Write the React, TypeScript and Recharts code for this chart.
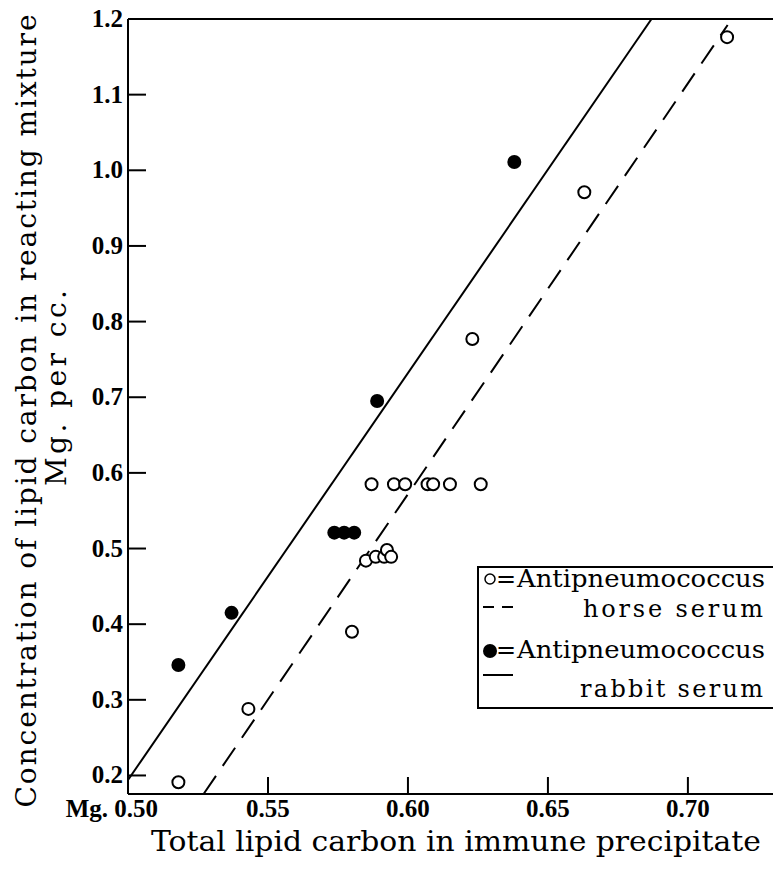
import React from 'react';
import { ScatterChart, Scatter, XAxis, YAxis, ReferenceLine } from 'recharts';

// Antipneumococcus horse serum (open circles)
const horseX = [0.518, 0.543, 0.58, 0.585, 0.5885, 0.5915, 0.5925, 0.594, 0.587, 0.595, 0.599, 0.607, 0.609, 0.615, 0.626, 0.623, 0.663, 0.714];
const horseY = [0.191, 0.288, 0.39, 0.484, 0.489, 0.489, 0.498, 0.489, 0.585, 0.585, 0.585, 0.585, 0.585, 0.585, 0.585, 0.777, 0.971, 1.176];

// Antipneumococcus rabbit serum (filled circles)
const rabbitX = [0.518, 0.537, 0.5737, 0.5772, 0.5808, 0.589, 0.638];
const rabbitY = [0.346, 0.415, 0.521, 0.521, 0.521, 0.695, 1.011];

// fitted lines: rabbit (solid), horse (dashed)
const rabbitLine = [{ x: 0.5, y: 0.194 }, { x: 0.687, y: 1.2 }];
const horseLine = [{ x: 0.527, y: 0.1755 }, { x: 0.7142, y: 1.192 }];

const xTicks = [0.5, 0.55, 0.6, 0.65, 0.7];
const yTicks = [0.2, 0.3, 0.4, 0.5, 0.6, 0.7, 0.8, 0.9, 1.0, 1.1, 1.2];

const horse = horseX.map((x, i) => ({ x, y: horseY[i] }));
const rabbit = rabbitX.map((x, i) => ({ x, y: rabbitY[i] }));

const tickFont = { fontFamily: 'Liberation Serif', fontSize: 25, fontWeight: 'bold', fill: '#000' };
const titleFont = { fontFamily: 'DejaVu Serif', fontSize: 28, fill: '#000' };
const legendFont = { fontFamily: 'DejaVu Serif', fontSize: 24, fill: '#000' };

const XTick = (props: any) => {
  const { x, y, payload } = props;
  const first = payload.value === 0.5;
  return (
    <g>
      {!first && <line x1={x} x2={x} y1={y} y2={y - 17} stroke="#000" strokeWidth={2} />}
      <text x={first ? x + 30 : x} y={y + 23} textAnchor={first ? 'end' : 'middle'} {...tickFont}>
        {first ? 'Mg. 0.50' : payload.value.toFixed(2)}
      </text>
    </g>
  );
};

const YTick = (props: any) => {
  const { x, y, payload } = props;
  return (
    <g>
      {payload.value !== 1.2 && <line x1={x} x2={x + 18} y1={y} y2={y} stroke="#000" strokeWidth={2} />}
      <text x={x - 5} y={y + 8} textAnchor="end" {...tickFont}>
        {payload.value.toFixed(1)}
      </text>
    </g>
  );
};

const OpenDot = (props: any) => (
  <circle cx={props.cx} cy={props.cy} r={6} fill="#fff" stroke="#000" strokeWidth={2} />
);
const FilledDot = (props: any) => <circle cx={props.cx} cy={props.cy} r={7} fill="#000" />;

export default function App() {
  return (
    <div style={{ position: 'absolute', left: 0, top: 0, width: 773, height: 869, overflow: 'hidden', background: '#fff' }}>
      <ScatterChart width={773} height={869} margin={{ top: 19, right: 0, left: 0, bottom: 0 }}>
        <XAxis
          type="number"
          dataKey="x"
          domain={[0.5, 0.7304]}
          ticks={xTicks}
          interval={0}
          allowDataOverflow
          height={75}
          tickSize={0}
          tickMargin={0}
          tickLine={false}
          tick={<XTick />}
          axisLine={{ stroke: '#000', strokeWidth: 2 }}
        />
        <YAxis
          type="number"
          dataKey="y"
          domain={[0.1755, 1.2]}
          ticks={yTicks}
          interval={0}
          allowDataOverflow
          width={128}
          tickSize={0}
          tickMargin={0}
          tickLine={false}
          tick={<YTick />}
          axisLine={{ stroke: '#000', strokeWidth: 2 }}
        />
        <ReferenceLine y={1.2} stroke="#000" strokeWidth={2} ifOverflow="visible" />
        <ReferenceLine segment={rabbitLine} stroke="#000" strokeWidth={2} ifOverflow="visible" />
        <ReferenceLine segment={horseLine} stroke="#000" strokeWidth={2} strokeDasharray="22 12" ifOverflow="visible" />
        <Scatter data={horse} shape={<OpenDot />} isAnimationActive={false} />
        <Scatter data={rabbit} shape={<FilledDot />} isAnimationActive={false} />
      </ScatterChart>
      <svg width={773} height={869} style={{ position: 'absolute', left: 0, top: 0, pointerEvents: 'none' }}>
        <text
          x={36}
          y={411}
          transform="rotate(-90, 36, 411)"
          textAnchor="middle"
          textLength={793}
          lengthAdjust="spacing"
          {...titleFont}
        >
          Concentration of lipid carbon in reacting mixture
        </text>
        <text
          x={66}
          y={388}
          transform="rotate(-90, 66, 388)"
          textAnchor="middle"
          textLength={196}
          lengthAdjust="spacing"
          {...titleFont}
        >
          Mg. per cc.
        </text>
        <text x={456} y={851} textAnchor="middle" textLength={610} lengthAdjust="spacingAndGlyphs" {...titleFont}>
          Total lipid carbon in immune precipitate
        </text>
        <rect x={478} y={567} width={320} height={141} fill="#fff" stroke="#000" strokeWidth={2} />
        <circle cx={490} cy={579} r={5} fill="#fff" stroke="#000" strokeWidth={1.5} />
        <text x={496} y={587} {...legendFont}>=</text>
        <text x={517} y={587} textLength={248} lengthAdjust="spacingAndGlyphs" {...legendFont}>
          Antipneumococcus
        </text>
        <line x1={483} x2={513} y1={607} y2={607} stroke="#000" strokeWidth={2} strokeDasharray="11 8" />
        <text x={763} y={617} textAnchor="end" textLength={180} lengthAdjust="spacing" {...legendFont}>
          horse serum
        </text>
        <circle cx={490} cy={651} r={7} fill="#000" />
        <text x={496} y={658} {...legendFont}>=</text>
        <text x={517} y={658} textLength={248} lengthAdjust="spacingAndGlyphs" {...legendFont}>
          Antipneumococcus
        </text>
        <line x1={483} x2={513} y1={675} y2={675} stroke="#000" strokeWidth={2} />
        <text x={763} y={697} textAnchor="end" textLength={183} lengthAdjust="spacing" {...legendFont}>
          rabbit serum
        </text>
      </svg>
    </div>
  );
}
